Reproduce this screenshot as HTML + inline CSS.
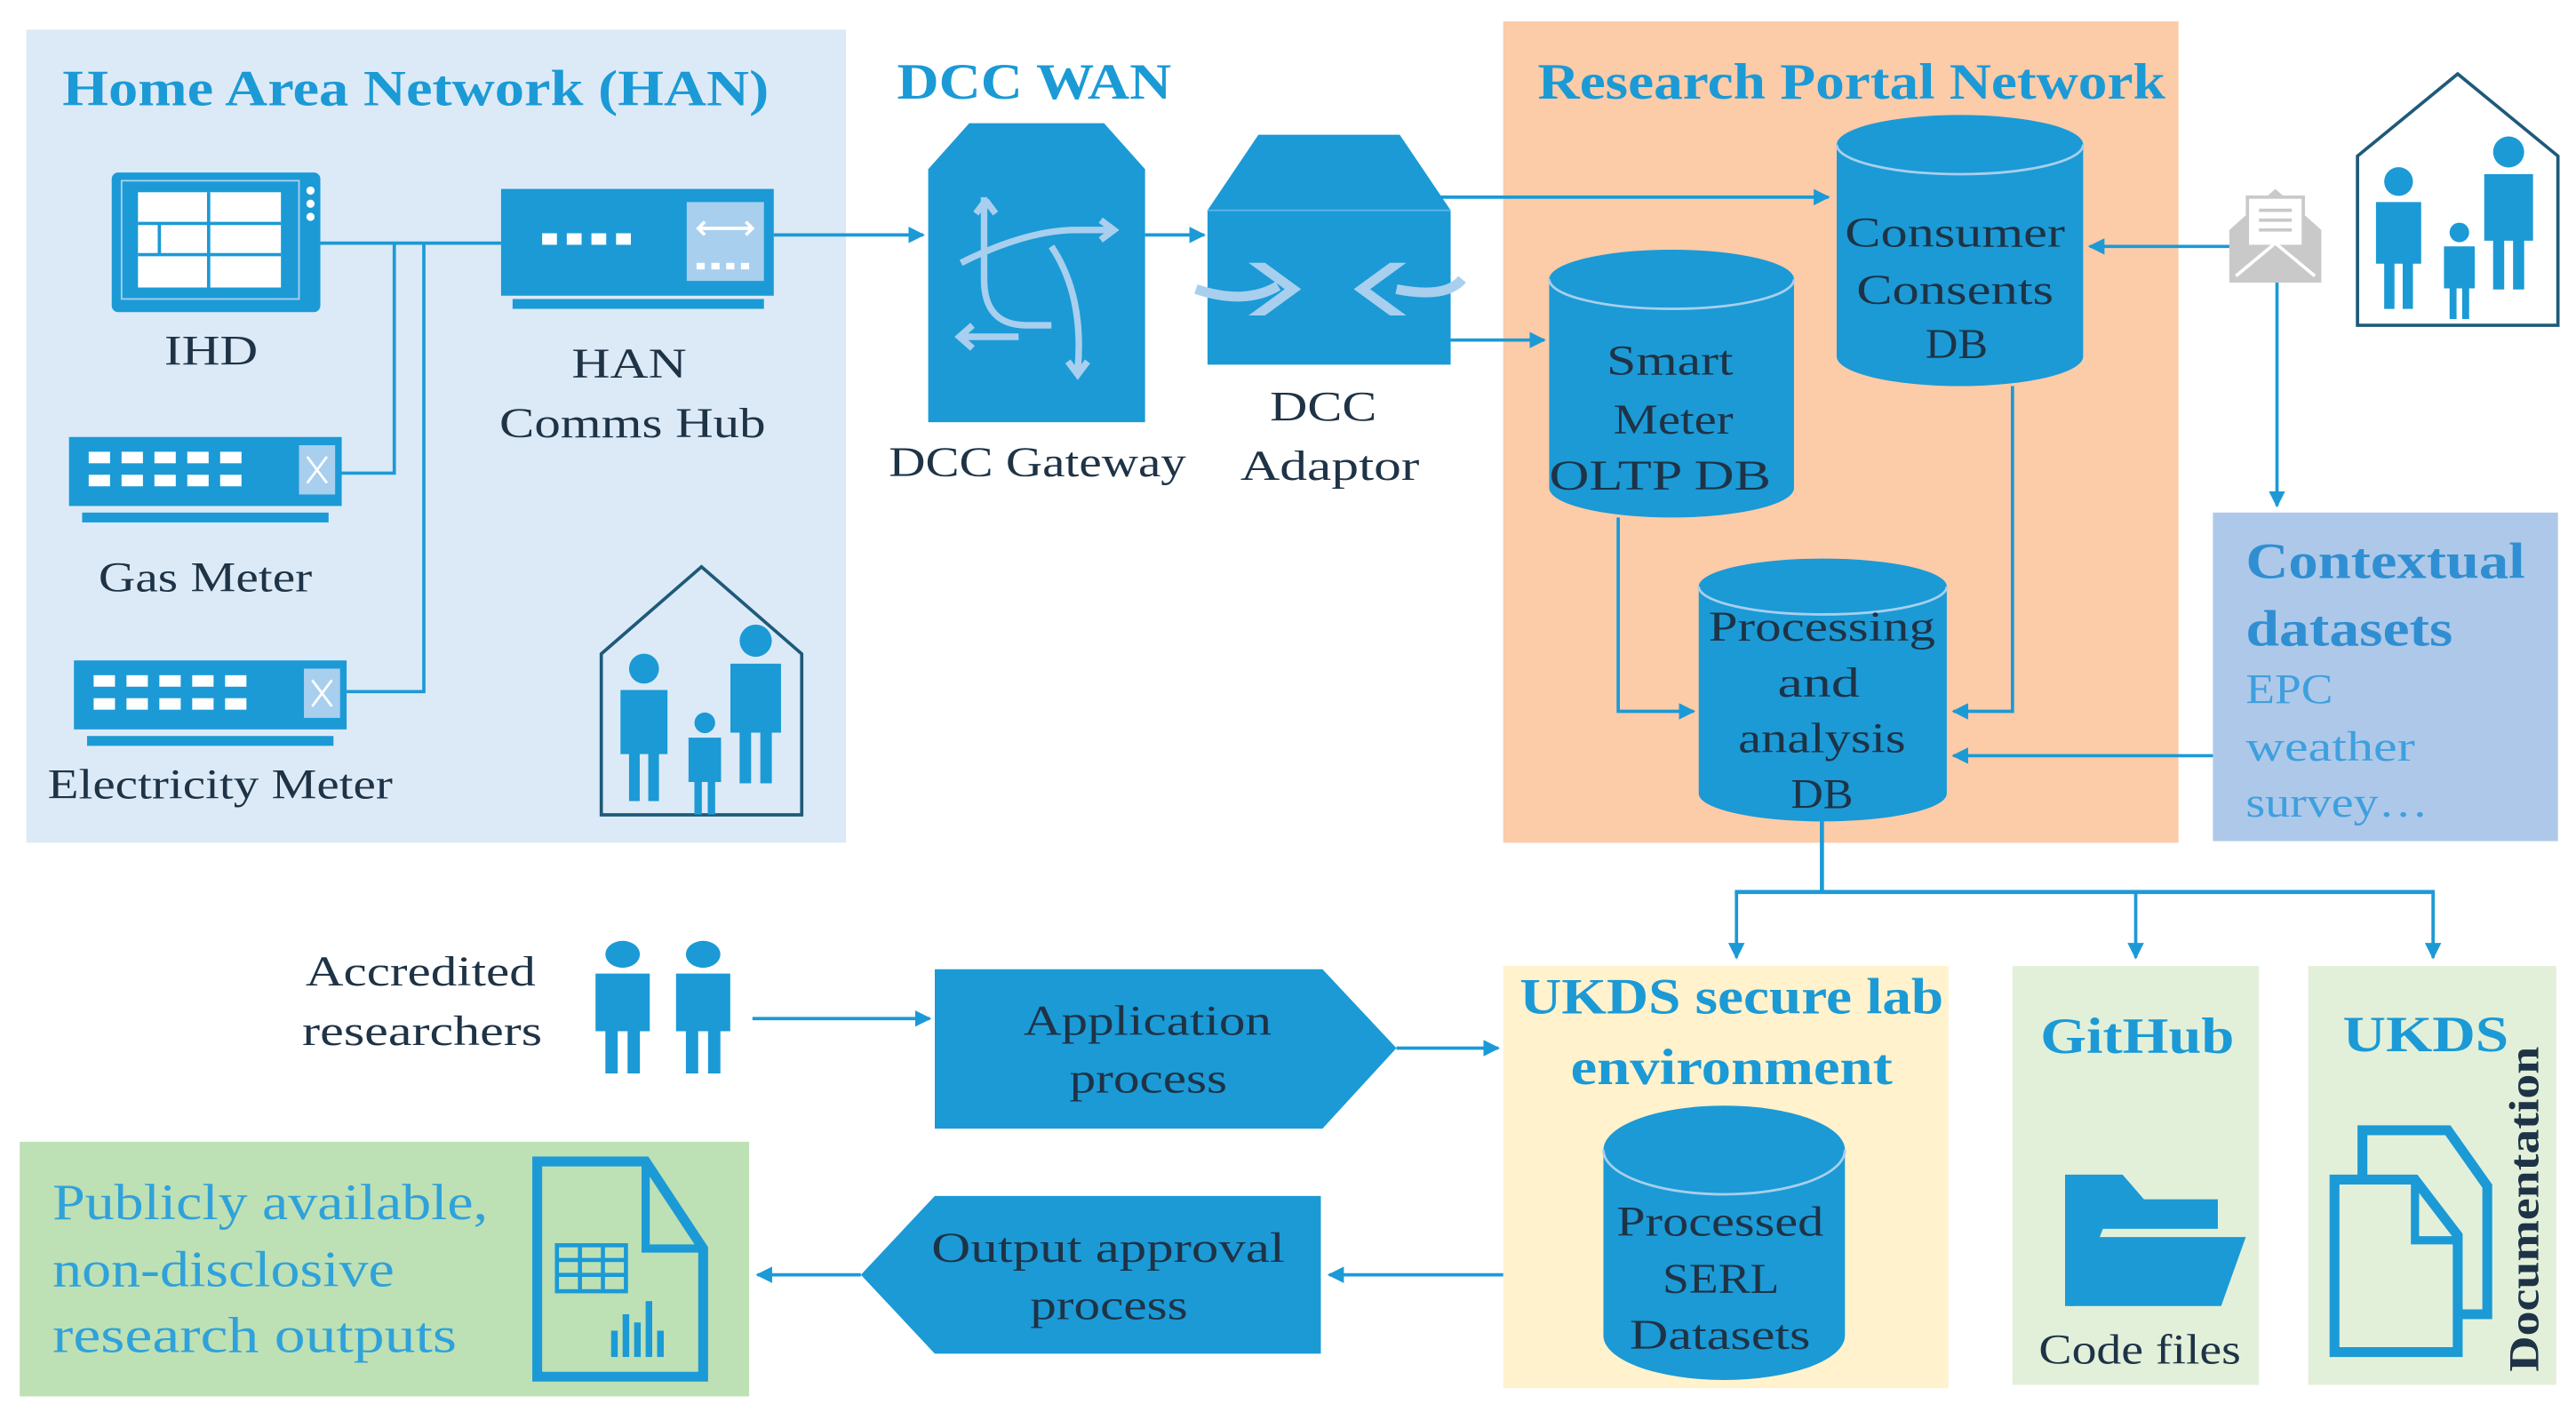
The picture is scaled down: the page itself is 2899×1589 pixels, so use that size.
<!DOCTYPE html>
<html><head><meta charset="utf-8"><style>
html,body{margin:0;padding:0;background:#fff;}
svg{display:block;}
text{font-family:"Liberation Serif",serif;}
.t{fill:#1e3346;font-size:26px;}
.h{fill:#1b9ad6;font-size:31px;}
</style></head><body>
<svg width="2899" height="1589" viewBox="0 0 1568 859.5" preserveAspectRatio="none" xmlns="http://www.w3.org/2000/svg">
<defs>
<marker id="a" viewBox="0 0 10 10" refX="9" refY="5" markerWidth="5" markerHeight="5" orient="auto"><path d="M0,0L10,5L0,10z" fill="#1b9ad6"/></marker>
<g id="person"><circle cx="0" cy="-30" r="7"/><path d="M-11,-20h22v30h-4v22h-5v-22h-4v22h-5v-22h-4z"/></g>
<g id="meter">
<rect x="0" y="0" width="166" height="42" fill="#1b9ad6"/>
<rect x="140" y="5" width="22" height="30" fill="#a8cfee"/>
<path d="M145,12l12,16M157,12l-12,16" stroke="#fff" stroke-width="1.5"/>
<g fill="#fff"><rect x="12" y="9" width="13" height="7"/><rect x="32" y="9" width="13" height="7"/><rect x="52" y="9" width="13" height="7"/><rect x="72" y="9" width="13" height="7"/><rect x="92" y="9" width="13" height="7"/>
<rect x="12" y="23" width="13" height="7"/><rect x="32" y="23" width="13" height="7"/><rect x="52" y="23" width="13" height="7"/><rect x="72" y="23" width="13" height="7"/><rect x="92" y="23" width="13" height="7"/></g>
<rect x="8" y="46" width="150" height="6" fill="#1b9ad6"/>
</g>
</defs>

<rect x="16" y="18" width="499" height="495" fill="#dceaf7"/>
<rect x="915" y="13" width="411" height="500" fill="#fccba8"/>
<rect x="1347" y="312" width="210" height="200" fill="#aec8e9"/>
<rect x="915" y="588" width="271" height="257" fill="#fff2cc"/>
<rect x="1225" y="588" width="150" height="255" fill="#e2f0da"/>
<rect x="1405" y="588" width="151" height="255" fill="#e2f0da"/>
<rect x="12" y="695" width="444" height="155" fill="#bee0b5"/>

<text x="38" y="64" class="h" textLength="430" lengthAdjust="spacingAndGlyphs" font-weight="bold">Home Area Network (HAN)</text>
<text x="546" y="60" class="h" textLength="167" lengthAdjust="spacingAndGlyphs" font-weight="bold">DCC WAN</text>
<text x="936" y="60" class="h" textLength="382" lengthAdjust="spacingAndGlyphs" font-weight="bold">Research Portal Network</text>

<rect x="68" y="105" width="127" height="85" rx="4" fill="#1b9ad6"/>
<rect x="74" y="110" width="108" height="72" fill="none" stroke="#a8cfee" stroke-width="1"/>
<rect x="84" y="117" width="87" height="58" fill="#fff"/>
<path d="M84,136h87M84,155h87M127,117v58M97,136v19" stroke="#1b9ad6" stroke-width="2"/>
<circle cx="189" cy="116" r="2.5" fill="#fff"/><circle cx="189" cy="124" r="2.5" fill="#fff"/><circle cx="189" cy="132" r="2.5" fill="#fff"/>
<text x="100" y="222" class="t" textLength="57" lengthAdjust="spacingAndGlyphs">IHD</text>

<rect x="305" y="115" width="166" height="65" fill="#1b9ad6"/>
<rect x="418" y="123" width="47" height="48" fill="#a8cfee"/>
<path d="M425,139h33M429,135l-4,4l4,4M454,135l4,4l-4,4" stroke="#fff" stroke-width="2" fill="none"/>
<g fill="#fff"><rect x="330" y="142" width="9" height="7"/><rect x="345" y="142" width="9" height="7"/><rect x="360" y="142" width="9" height="7"/><rect x="375" y="142" width="9" height="7"/>
<rect x="424" y="160" width="5" height="4"/><rect x="433" y="160" width="5" height="4"/><rect x="442" y="160" width="5" height="4"/><rect x="451" y="160" width="5" height="4"/></g>
<rect x="312" y="182" width="153" height="6" fill="#1b9ad6"/>
<text x="348" y="230" class="t" textLength="70" lengthAdjust="spacingAndGlyphs">HAN</text>
<text x="304" y="266" class="t" textLength="162" lengthAdjust="spacingAndGlyphs">Comms Hub</text>

<use href="#meter" x="42" y="266"/>
<text x="60" y="360" class="t" textLength="130" lengthAdjust="spacingAndGlyphs">Gas Meter</text>
<use href="#meter" x="45" y="402"/>
<text x="29" y="486" class="t" textLength="210" lengthAdjust="spacingAndGlyphs">Electricity Meter</text>

<g stroke="#1b9ad6" stroke-width="2" fill="none">
<path d="M195,148H305"/>
<path d="M240,148V288H208"/>
<path d="M258,148V421H211"/>
</g>

<path d="M366,398L427,345L488,398V496H366Z" fill="none" stroke="#1e5a7a" stroke-width="2"/>
<g fill="#1b9ad6">
<use href="#person" transform="translate(392,446) scale(1.3)"/>
<use href="#person" transform="translate(460,432) scale(1.4)"/>
<use href="#person" transform="translate(429,467) scale(0.9)"/>
</g>

<path d="M590,75H672L697,103V257H565V103Z" fill="#1b9ad6"/>
<g stroke="#a8cfee" stroke-width="4" fill="none">
<path d="M599,120V170Q599,198 625,198H640"/>
<path d="M600,122l-6,8M600,122l6,8"/>
<path d="M585,160q40,-20 70,-20h22M670,134l8,6l-8,6"/>
<path d="M640,150q20,30 16,75M650,220l6,8l6,-8"/>
<path d="M585,205h35M592,198l-8,7l8,7"/>
</g>
<text x="541" y="290" class="t" textLength="181" lengthAdjust="spacingAndGlyphs">DCC Gateway</text>

<path d="M766,82H852L883,128V222H735V128Z" fill="#1b9ad6"/>
<path d="M735,128H883" stroke="#5db3e4" stroke-width="1"/>
<path d="M728,176q30,10 50,-2" stroke="#a8cfee" stroke-width="6" fill="none"/>
<path d="M890,170q-10,12 -40,6" stroke="#a8cfee" stroke-width="6" fill="none"/>
<path d="M770,160l22,16l-22,16h-10l22,-16l-22,-16z" fill="#a8cfee"/>
<path d="M846,160l-22,16l22,16h10l-22,-16l22,-16z" fill="#a8cfee"/>
<text x="773" y="256" class="t" textLength="65" lengthAdjust="spacingAndGlyphs">DCC</text>
<text x="755" y="292" class="t" textLength="109" lengthAdjust="spacingAndGlyphs">Adaptor</text>

<g stroke="#1b9ad6" stroke-width="2" fill="none" marker-end="url(#a)">
<path d="M471,143H562"/>
<path d="M697,143H733"/>
<path d="M874,120H1113"/>
<path d="M883,207H940"/>
<path d="M1357,150H1272"/>
<path d="M1386,172V308"/>
<path d="M985,315V433H1031"/>
<path d="M1225,235V433H1189"/>
<path d="M1347,460H1189"/>
<path d="M1057,543V583"/>
<path d="M1300,543V583"/>
<path d="M1481,543V583"/>
<path d="M458,620H566"/>
<path d="M850,638H912"/>
<path d="M915,776H809"/>
<path d="M524,776H461"/>
</g>
<path d="M1109,500V543M1056,543H1482" stroke="#1b9ad6" stroke-width="2.5" fill="none"/>

<g fill="#1b9ad6">
<path d="M943,170A74.5,18 0 0 1 1092,170V297A74.5,18 0 0 1 943,297Z"/>
<path d="M1118,88A75,18 0 0 1 1268,88V217A75,18 0 0 1 1118,217Z"/>
<path d="M1034,357A75.5,17 0 0 1 1185,357V483A75.5,17 0 0 1 1034,483Z"/>
<path d="M976,700A73.5,27 0 0 1 1123,700V813A73.5,27 0 0 1 976,813Z"/>
</g>
<g stroke="#a8cfee" stroke-width="1.5" fill="none">
<path d="M943,170A74.5,18 0 0 0 1092,170"/>
<path d="M1118,88A75,18 0 0 0 1268,88"/>
<path d="M1034,357A75.5,17 0 0 0 1185,357"/>
<path d="M976,700A73.5,27 0 0 0 1123,700"/>
</g>
<g>
<text x="978" y="228" class="t" textLength="77" lengthAdjust="spacingAndGlyphs">Smart</text>
<text x="982" y="264" class="t" textLength="73" lengthAdjust="spacingAndGlyphs">Meter</text>
<text x="943" y="298" class="t" textLength="135" lengthAdjust="spacingAndGlyphs">OLTP DB</text>
<text x="1123" y="150" class="t" textLength="134" lengthAdjust="spacingAndGlyphs">Consumer</text>
<text x="1130" y="185" class="t" textLength="120" lengthAdjust="spacingAndGlyphs">Consents</text>
<text x="1172" y="218" class="t" textLength="38" lengthAdjust="spacingAndGlyphs">DB</text>
<text x="1040" y="390" class="t" textLength="138" lengthAdjust="spacingAndGlyphs">Processing</text>
<text x="1082" y="424" class="t" textLength="50" lengthAdjust="spacingAndGlyphs">and</text>
<text x="1058" y="458" class="t" textLength="102" lengthAdjust="spacingAndGlyphs">analysis</text>
<text x="1090" y="492" class="t" textLength="38" lengthAdjust="spacingAndGlyphs">DB</text>
<text x="984" y="752" class="t" textLength="126" lengthAdjust="spacingAndGlyphs">Processed</text>
<text x="1012" y="787" class="t" textLength="71" lengthAdjust="spacingAndGlyphs">SERL</text>
<text x="992" y="821" class="t" textLength="110" lengthAdjust="spacingAndGlyphs">Datasets</text>
</g>

<path d="M1357,140L1385,115L1413,140V172H1357Z" fill="#c9c9c9"/>
<rect x="1368" y="120" width="34" height="30" fill="#fff" stroke="#c9c9c9" stroke-width="2"/>
<path d="M1375,128h20M1375,134h20M1375,140h20" stroke="#c9c9c9" stroke-width="2"/>
<path d="M1361,168L1385,148L1409,168" stroke="#fff" stroke-width="2" fill="none"/>

<path d="M1435,95L1496,45L1557,95V198H1435Z" fill="none" stroke="#1e5a7a" stroke-width="2"/>
<g fill="#1b9ad6">
<use href="#person" transform="translate(1460,148) scale(1.25)"/>
<use href="#person" transform="translate(1527,133) scale(1.35)"/>
<use href="#person" transform="translate(1497,167) scale(0.85)"/>
</g>

<text x="1367" y="352" textLength="170" lengthAdjust="spacingAndGlyphs" style="font-size:31px;fill:#2f8fd2;font-weight:bold">Contextual</text>
<text x="1367" y="393" textLength="126" lengthAdjust="spacingAndGlyphs" style="font-size:31px;fill:#2f8fd2;font-weight:bold">datasets</text>
<text x="1367" y="428" textLength="53" lengthAdjust="spacingAndGlyphs" style="font-size:26px;fill:#3ea0de">EPC</text>
<text x="1367" y="463" textLength="103" lengthAdjust="spacingAndGlyphs" style="font-size:26px;fill:#3ea0de">weather</text>
<text x="1367" y="497" textLength="111" lengthAdjust="spacingAndGlyphs" style="font-size:26px;fill:#3ea0de">survey…</text>

<text x="186" y="600" class="t" textLength="140" lengthAdjust="spacingAndGlyphs">Accredited</text>
<text x="184" y="636" class="t" textLength="146" lengthAdjust="spacingAndGlyphs">researchers</text>
<g fill="#1b9ad6">
<use href="#person" transform="translate(379,616) scale(1.5,1.17)"/>
<use href="#person" transform="translate(428,616) scale(1.5,1.17)"/>
</g>

<path d="M569,590H805L850,638L805,687H569Z" fill="#1b9ad6"/>
<text x="623" y="630" class="t" textLength="151" lengthAdjust="spacingAndGlyphs">Application</text>
<text x="651" y="665" class="t" textLength="96" lengthAdjust="spacingAndGlyphs">process</text>
<path d="M569,728H804V824H569L524,776Z" fill="#1b9ad6"/>
<text x="567" y="768" class="t" textLength="215" lengthAdjust="spacingAndGlyphs">Output approval</text>
<text x="627" y="803" class="t" textLength="96" lengthAdjust="spacingAndGlyphs">process</text>

<text x="925" y="617" class="h" textLength="258" lengthAdjust="spacingAndGlyphs" font-weight="bold">UKDS secure lab</text>
<text x="956" y="660" class="h" textLength="196" lengthAdjust="spacingAndGlyphs" font-weight="bold">environment</text>

<text x="1242" y="641" class="h" textLength="118" lengthAdjust="spacingAndGlyphs" font-weight="bold">GitHub</text>
<path d="M1257,715H1292L1305,730H1350V748H1280L1262,795H1257Z" fill="#1b9ad6"/>
<path d="M1275,753H1367L1352,795H1260Z" fill="#1b9ad6"/>
<text x="1241" y="830" class="t" textLength="123" lengthAdjust="spacingAndGlyphs">Code files</text>

<text x="1426" y="640" class="h" textLength="101" lengthAdjust="spacingAndGlyphs" font-weight="bold">UKDS</text>
<path d="M1438,688H1490L1514,722V800H1438Z" fill="none" stroke="#1b9ad6" stroke-width="6"/>
<path d="M1421,718H1470L1496,752V823H1421Z" fill="#e2f0da" stroke="#1b9ad6" stroke-width="6"/>
<path d="M1470,718V755H1496" fill="none" stroke="#1b9ad6" stroke-width="5"/>
<text x="0" y="0" transform="translate(1545,736) rotate(-90)" text-anchor="middle" textLength="198" lengthAdjust="spacingAndGlyphs" style="font-size:26px;fill:#1e3346;font-weight:bold">Documentation</text>

<text x="32" y="742" textLength="265" lengthAdjust="spacingAndGlyphs" style="font-size:31px;fill:#2fa2da">Publicly available,</text>
<text x="32" y="783" textLength="208" lengthAdjust="spacingAndGlyphs" style="font-size:31px;fill:#2fa2da">non-disclosive</text>
<text x="32" y="823" textLength="246" lengthAdjust="spacingAndGlyphs" style="font-size:31px;fill:#2fa2da">research  outputs</text>
<path d="M327,707H393L428,760V838H327Z" fill="none" stroke="#1b9ad6" stroke-width="6"/>
<path d="M393,707V760H428" fill="none" stroke="#1b9ad6" stroke-width="5"/>
<g stroke="#1b9ad6" stroke-width="2.5" fill="none">
<rect x="339" y="758" width="42" height="28"/>
<path d="M339,767h42M339,776h42M353,758v28M367,758v28"/>
</g>
<g fill="#1b9ad6"><rect x="372" y="810" width="4" height="16"/><rect x="379" y="800" width="4" height="26"/><rect x="386" y="805" width="4" height="21"/><rect x="393" y="792" width="4" height="34"/><rect x="400" y="810" width="4" height="16"/></g>
</svg>
</body></html>
